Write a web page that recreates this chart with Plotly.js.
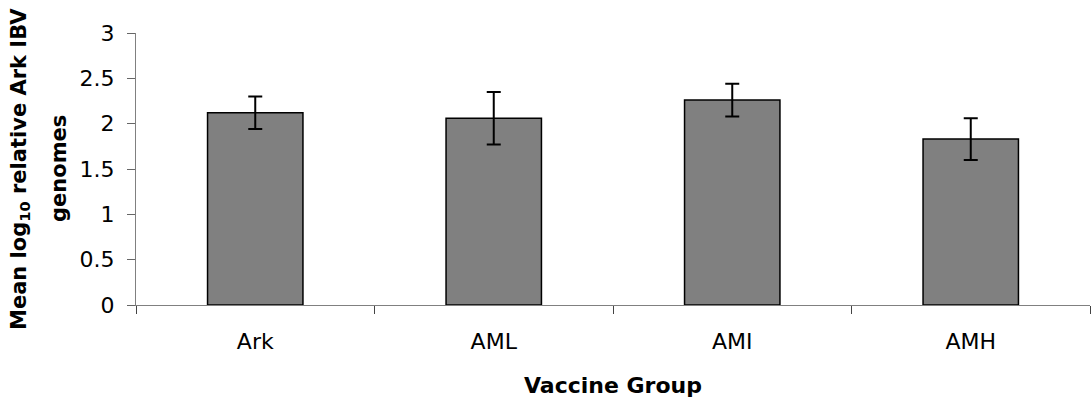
<!DOCTYPE html>
<html>
<head>
<meta charset="utf-8">
<script src="https://cdn.plot.ly/plotly-3.0.1.min.js"></script>
<style>
  html, body { margin: 0; padding: 0; background: #fff; }
  #chart { width: 1092px; height: 400px; }
</style>
</head>
<body>
<div id="chart"></div>
<script>
// Vaccine groups and mean log10 relative Ark IBV genome counts (± error)
const groups = ['Ark', 'AML', 'AMI', 'AMH'];
const meanGenomes = [2.12, 2.06, 2.26, 1.83];
const errGenomes = [0.18, 0.29, 0.18, 0.23];
const yTicks = [0, 0.5, 1, 1.5, 2, 2.5, 3];
const yTickText = ['0', '0.5', '1', '1.5', '2', '2.5', '3'];

const FONT = 'DejaVu Sans, Liberation Sans, Arial, sans-serif';

const trace = {
  type: 'bar',
  x: groups,
  y: meanGenomes,
  marker: { color: '#808080', line: { color: '#000', width: 1.5 } },
  error_y: { type: 'data', array: errGenomes, visible: true, color: '#000', thickness: 2, width: 7 },
  hoverinfo: 'x+y'
};

const layout = {
  width: 1092,
  height: 400,
  margin: { l: 136, r: 2, t: 33, b: 95 },
  paper_bgcolor: '#fff',
  plot_bgcolor: '#fff',
  showlegend: false,
  bargap: 0.6,
  font: { family: FONT, size: 22, color: '#000' },
  xaxis: {
    type: 'category',
    range: [-0.5, 3.5],
    tickson: 'boundaries',
    ticks: 'outside',
    ticklen: 8,
    tickcolor: '#444',
    showline: true,
    linecolor: '#808080',
    linewidth: 1,
    showgrid: false,
    zeroline: false,
    ticklabelstandoff: 17,
    tickfont: { family: FONT, size: 22, color: '#000' },
    title: { text: '<b>Vaccine Group</b>', font: { family: FONT, size: 22, color: '#000' }, standoff: 24 }
  },
  yaxis: {
    range: [0, 3],
    tickvals: yTicks,
    ticktext: yTickText,
    ticks: 'outside',
    ticklen: 8,
    tickcolor: '#666',
    showline: true,
    linecolor: '#808080',
    linewidth: 1,
    showgrid: false,
    zeroline: false,
    ticklabelstandoff: 8,
    tickfont: { family: FONT, size: 22, color: '#000' }
  },
  annotations: [
    {
      xref: 'paper', yref: 'paper', x: 0, y: 0.5,
      xanchor: 'center', yanchor: 'middle', xshift: -116,
      textangle: -90, showarrow: false,
      text: '<b>Mean log<sub>10</sub> relative Ark IBV</b>',
      font: { family: FONT, size: 21, color: '#000' }
    },
    {
      xref: 'paper', yref: 'paper', x: 0, y: 0.5,
      xanchor: 'center', yanchor: 'middle', xshift: -77,
      textangle: -90, showarrow: false,
      text: '<b>genomes</b>',
      font: { family: FONT, size: 21, color: '#000' }
    }
  ]
};

Plotly.newPlot('chart', [trace], layout, { displayModeBar: false, staticPlot: true });
</script>
</body>
</html>
